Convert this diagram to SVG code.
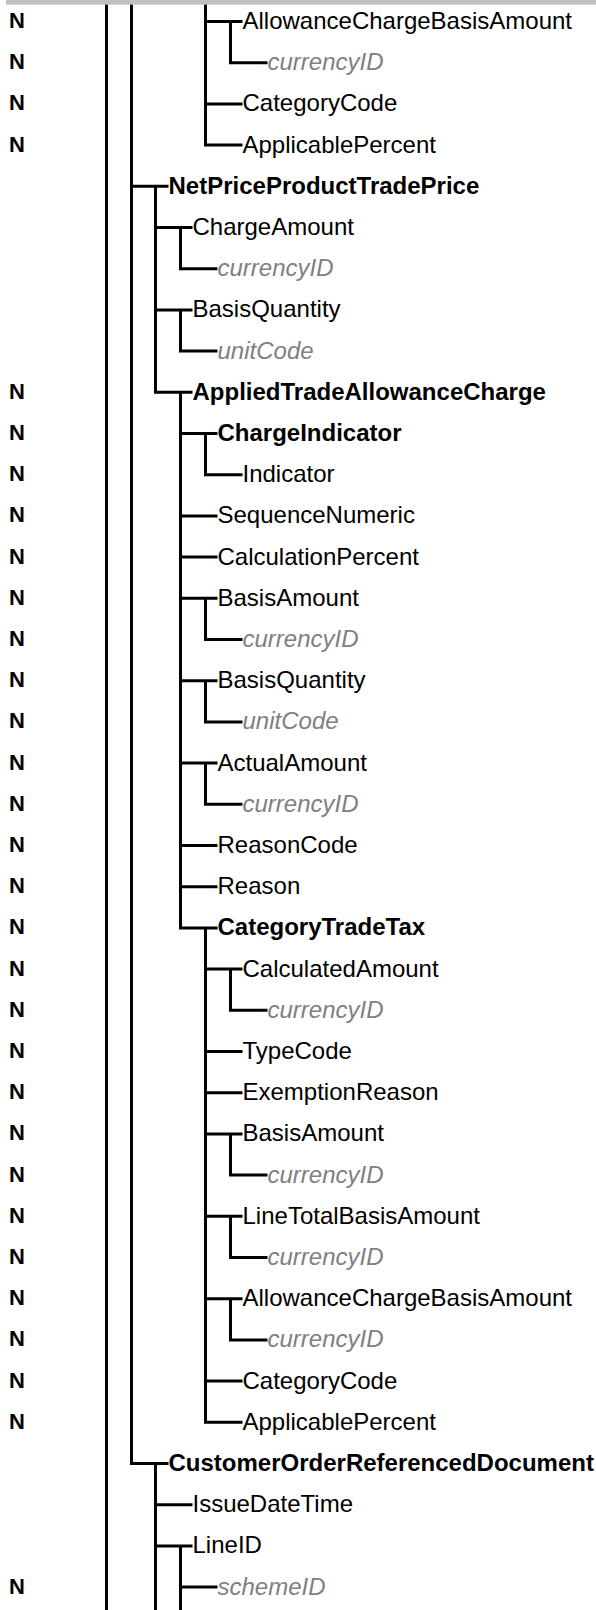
<svg xmlns="http://www.w3.org/2000/svg" width="596" height="1610" viewBox="0 0 596 1610">
  <style>
    text { font-family: "Liberation Sans", Arial, Helvetica, sans-serif; font-size: 24px; fill: #000; }
    .b { font-weight: bold; }
    .a { font-style: italic; fill: #808080; }
    .n { font-weight: bold; font-size: 22px; }
    .c path { fill: none; stroke: #000; stroke-width: 3; stroke-linejoin: miter; }
  </style>
  <rect width="596" height="1610" fill="#fff"/>

  <!-- tree connectors -->
  <g id="connectors" class="c">
    <path d="M106.5 0 V1610"/>
    <path d="M131.5 0 V1463.5 H168.5"/>
    <path d="M131.5 186.3 H168.5"/>
    <!-- tail of the previous tax subtree -->
    <path d="M205.5 0 V145.1 H242.5"/>
    <path d="M205.5 21.5 H242.5"/>
    <path d="M205.5 103.9 H242.5"/>
    <path d="M230.5 21.5 V62.7 H267.5"/>
    <!-- NetPriceProductTradePrice -->
    <path d="M155.5 186.3 V392.3 H192.5"/>
    <path d="M155.5 227.5 H192.5"/>
    <path d="M155.5 309.9 H192.5"/>
    <path d="M180.5 227.5 V268.7 H217.5"/>
    <path d="M180.5 309.9 V351.1 H217.5"/>
    <!-- AppliedTradeAllowanceCharge -->
    <path d="M180.5 392.3 V927.9 H217.5"/>
    <path d="M180.5 433.5 H217.5"/>
    <path d="M180.5 515.9 H217.5"/>
    <path d="M180.5 557.1 H217.5"/>
    <path d="M180.5 598.3 H217.5"/>
    <path d="M180.5 680.7 H217.5"/>
    <path d="M180.5 763.1 H217.5"/>
    <path d="M180.5 845.5 H217.5"/>
    <path d="M180.5 886.7 H217.5"/>
    <path d="M205.5 433.5 V474.7 H242.5"/>
    <path d="M205.5 598.3 V639.5 H242.5"/>
    <path d="M205.5 680.7 V721.9 H242.5"/>
    <path d="M205.5 763.1 V804.3 H242.5"/>
    <!-- CategoryTradeTax -->
    <path d="M205.5 927.9 V1422.3 H242.5"/>
    <path d="M205.5 969.1 H242.5"/>
    <path d="M205.5 1051.5 H242.5"/>
    <path d="M205.5 1092.7 H242.5"/>
    <path d="M205.5 1133.9 H242.5"/>
    <path d="M205.5 1216.3 H242.5"/>
    <path d="M205.5 1298.7 H242.5"/>
    <path d="M205.5 1381.1 H242.5"/>
    <path d="M230.5 969.1 V1010.3 H267.5"/>
    <path d="M230.5 1133.9 V1175.1 H267.5"/>
    <path d="M230.5 1216.3 V1257.5 H267.5"/>
    <path d="M230.5 1298.7 V1339.9 H267.5"/>
    <!-- CustomerOrderReferencedDocument -->
    <path d="M155.5 1463.5 V1610"/>
    <path d="M155.5 1504.7 H192.5"/>
    <path d="M155.5 1545.9 H192.5"/>
    <path d="M180.5 1545.9 V1610"/>
    <path d="M180.5 1587.1 H217.5"/>
  </g>

  <rect id="header-bar" x="6" y="0" width="590" height="4.7" fill="#c0c0c0"/>

  <!-- nodes -->
  <g id="n01"><text class="n" x="9" y="28">N</text><text x="242.5" y="29">AllowanceChargeBasisAmount</text></g>
  <g id="n02"><text class="n" x="9" y="69.2">N</text><text class="a" x="267.5" y="70.2">currencyID</text></g>
  <g id="n03"><text class="n" x="9" y="110.4">N</text><text x="242.5" y="111.4">CategoryCode</text></g>
  <g id="n04"><text class="n" x="9" y="151.6">N</text><text x="242.5" y="152.6">ApplicablePercent</text></g>
  <g id="n05"><text class="b" x="168.5" y="193.8">NetPriceProductTradePrice</text></g>
  <g id="n06"><text x="192.5" y="235">ChargeAmount</text></g>
  <g id="n07"><text class="a" x="217.5" y="276.2">currencyID</text></g>
  <g id="n08"><text x="192.5" y="317.4">BasisQuantity</text></g>
  <g id="n09"><text class="a" x="217.5" y="358.6">unitCode</text></g>
  <g id="n10"><text class="n" x="9" y="398.8">N</text><text class="b" x="192.5" y="399.8">AppliedTradeAllowanceCharge</text></g>
  <g id="n11"><text class="n" x="9" y="440">N</text><text class="b" x="217.5" y="441">ChargeIndicator</text></g>
  <g id="n12"><text class="n" x="9" y="481.2">N</text><text x="242.5" y="482.2">Indicator</text></g>
  <g id="n13"><text class="n" x="9" y="522.4">N</text><text x="217.5" y="523.4">SequenceNumeric</text></g>
  <g id="n14"><text class="n" x="9" y="563.6">N</text><text x="217.5" y="564.6">CalculationPercent</text></g>
  <g id="n15"><text class="n" x="9" y="604.8">N</text><text x="217.5" y="605.8">BasisAmount</text></g>
  <g id="n16"><text class="n" x="9" y="646">N</text><text class="a" x="242.5" y="647">currencyID</text></g>
  <g id="n17"><text class="n" x="9" y="687.2">N</text><text x="217.5" y="688.2">BasisQuantity</text></g>
  <g id="n18"><text class="n" x="9" y="728.4">N</text><text class="a" x="242.5" y="729.4">unitCode</text></g>
  <g id="n19"><text class="n" x="9" y="769.6">N</text><text x="217.5" y="770.6">ActualAmount</text></g>
  <g id="n20"><text class="n" x="9" y="810.8">N</text><text class="a" x="242.5" y="811.8">currencyID</text></g>
  <g id="n21"><text class="n" x="9" y="852">N</text><text x="217.5" y="853">ReasonCode</text></g>
  <g id="n22"><text class="n" x="9" y="893.2">N</text><text x="217.5" y="894.2">Reason</text></g>
  <g id="n23"><text class="n" x="9" y="934.4">N</text><text class="b" x="217.5" y="935.4">CategoryTradeTax</text></g>
  <g id="n24"><text class="n" x="9" y="975.6">N</text><text x="242.5" y="976.6">CalculatedAmount</text></g>
  <g id="n25"><text class="n" x="9" y="1016.8">N</text><text class="a" x="267.5" y="1017.8">currencyID</text></g>
  <g id="n26"><text class="n" x="9" y="1058">N</text><text x="242.5" y="1059">TypeCode</text></g>
  <g id="n27"><text class="n" x="9" y="1099.2">N</text><text x="242.5" y="1100.2">ExemptionReason</text></g>
  <g id="n28"><text class="n" x="9" y="1140.4">N</text><text x="242.5" y="1141.4">BasisAmount</text></g>
  <g id="n29"><text class="n" x="9" y="1181.6">N</text><text class="a" x="267.5" y="1182.6">currencyID</text></g>
  <g id="n30"><text class="n" x="9" y="1222.8">N</text><text x="242.5" y="1223.8">LineTotalBasisAmount</text></g>
  <g id="n31"><text class="n" x="9" y="1264">N</text><text class="a" x="267.5" y="1265">currencyID</text></g>
  <g id="n32"><text class="n" x="9" y="1305.2">N</text><text x="242.5" y="1306.2">AllowanceChargeBasisAmount</text></g>
  <g id="n33"><text class="n" x="9" y="1346.4">N</text><text class="a" x="267.5" y="1347.4">currencyID</text></g>
  <g id="n34"><text class="n" x="9" y="1387.6">N</text><text x="242.5" y="1388.6">CategoryCode</text></g>
  <g id="n35"><text class="n" x="9" y="1428.8">N</text><text x="242.5" y="1429.8">ApplicablePercent</text></g>
  <g id="n36"><text class="b" x="168.5" y="1471">CustomerOrderReferencedDocument</text></g>
  <g id="n37"><text x="192.5" y="1512.2">IssueDateTime</text></g>
  <g id="n38"><text x="192.5" y="1553.4">LineID</text></g>
  <g id="n39"><text class="n" x="9" y="1593.6">N</text><text class="a" x="217.5" y="1594.6">schemeID</text></g>
</svg>
